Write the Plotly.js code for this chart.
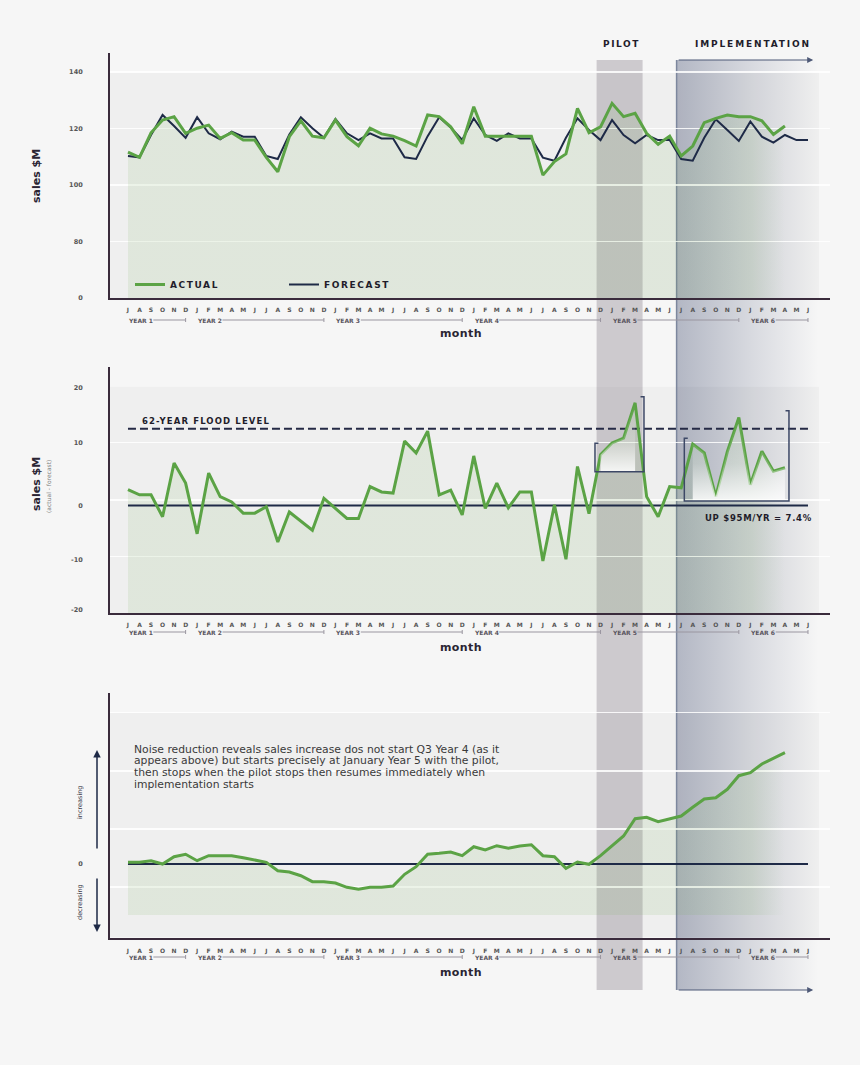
<!DOCTYPE html>
<html>
<head>
<meta charset="utf-8">
<script src="https://cdn.plot.ly/plotly-3.0.1.min.js"></script>
<style>
  html, body { margin: 0; padding: 0; background: #f6f6f6; }
  #chart { width: 860px; height: 1065px; }
</style>
</head>
<body>
<div id="chart"></div>
<script>
// month letters, Jul Year 1 .. Jun Year 6
var months = ['J','A','S','O','N','D',
  'J','F','M','A','M','J','J','A','S','O','N','D',
  'J','F','M','A','M','J','J','A','S','O','N','D',
  'J','F','M','A','M','J','J','A','S','O','N','D',
  'J','F','M','A','M','J','J','A','S','O','N','D',
  'J','F','M','A','M','J'];
var yearNames = ['YEAR 1', 'YEAR 2', 'YEAR 3', 'YEAR 4', 'YEAR 5', 'YEAR 6'];

// sales $M
var actual = [111.6,109.8,118.5,123,124.2,118.3, 120.1,121.2,116.5,118.5,115.9,115.9,
  109.8,104.7,117.1,122.7,117.3,116.7, 123,117.1,113.9,120.1,118.1,117.3,
  115.7,113.8,124.8,124.2,120.6,114.6, 127.7,117.3,117.3,117.3,117.3,117.3,
  103.5,108.3,111,127.1,118.5,120.6, 128.9,124.2,125.4,118.3,114.4,117.3,
  110.3,113.8,122.1,123.6,124.8,124.2, 124.2,122.7,117.9,120.9];
var forecast = [110.3,109.8,117.7,124.8,120.9,116.7, 124,118.3,116.2,118.9,117.1,117.1,
  110.3,109.2,117.9,124,120.1,116.7, 123.4,118.3,115.9,118.3,116.5,116.5,
  109.8,109.2,117.3,124,120.4,116, 123.6,117.7,115.6,118.3,116.5,116.5,
  109.7,108.6,116.7,123.6,119.5,115.9, 123,117.7,114.8,117.7,115.9,115.9,
  109.2,108.6,116.7,123.3,119.5,115.6, 122.5,117.1,115,117.7,115.9,115.9];

// actual - forecast, middle panel
var diff = [2.7,1.8,1.8,-1.9,7.2,3.8, -4.8,5.5,1.5,0.6,-1.3,-1.3,
  -0.2,-6.2,-1.1,-2.6,-4.2,1.2, -0.5,-2.2,-2.2,3.2,2.3,2.1,
  10.9,8.9,12.6,1.8,2.6,-1.6, 8.4,-0.5,3.8,-0.4,2.3,2.3,
  -9.4,0.1,-9.1,6.6,-1.4,8.6, 10.6,11.4,17.4,1.5,-1.9,3.2,
  3.0,10.4,8.9,1.5,9.1,14.9, 3.5,9.2,5.8,6.4];
var floodLevel = 13;

// noise-reduced trend, bottom panel (arbitrary units)
var cumulative = [0.17,0.17,0.33,0,0.73,0.97, 0.33,0.83,0.83,0.83,0.63,0.4,
  0.17,-0.67,-0.8,-1.17,-1.77,-1.77, -1.9,-2.33,-2.53,-2.33,-2.33,-2.2,
  -1.03,-0.27,0.97,1.07,1.2,0.83, 1.73,1.4,1.83,1.57,1.8,1.93,
  0.83,0.73,-0.43,0.2,-0.03,0.83, 1.83,2.8,4.53,4.67,4.23,4.5,
  4.8,5.67,6.5,6.63,7.47,8.83, 9.13,10,10.57,11.13];

var yTickVals1 = [60, 80, 100, 120, 140];
var yTickText1 = ['0', '80', '100', '120', '140'];
var yTickVals2 = [20, 10.6, 0, -9.2, -17.7];
var yTickText2 = ['20', '10', '0', '-10', '-20'];
var yTickVals3 = [0];
var yTickText3 = ['0'];

var noteLines = [
  'Noise reduction reveals sales increase dos not start Q3 Year 4 (as it',
  'appears above) but starts precisely at January Year 5 with the pilot,',
  'then stops when the pilot stops then resumes immediately when',
  'implementation starts'
];

var W = 860, H = 1065;
function px(p) { return p / W; }      // pixel x -> paper
function py(p) { return 1 - p / H; }  // pixel y -> paper

var FONT = 'DejaVu Sans';
var GREEN = '#5ba345', NAVY = '#1e2a47', AXIS = '#3a2b3c', TICK = '#555555';
var FILL = 'rgba(110,170,80,0.12)';

var xAll = months.map(function (m, i) { return i; });
var xAct = actual.map(function (v, i) { return i; });

// year spans from the month letters (a new year starts after each D)
var yearStart = [0], yearEnd = [];
months.forEach(function (m, i) {
  if (i > 0 && months[i - 1] === 'D') { yearEnd.push(i - 1); yearStart.push(i); }
});
yearEnd.push(months.length - 1);

// green area under a series, fading out at its right end
function fillPair(y, base, xa, ya) {
  return [
    { x: xAct, y: y.map(function () { return base; }), xaxis: xa, yaxis: ya, mode: 'lines',
      line: { width: 0 }, showlegend: false, hoverinfo: 'skip' },
    { x: xAct, y: y, xaxis: xa, yaxis: ya, mode: 'lines', line: { width: 0 },
      fill: 'tonexty', fillcolor: FILL, showlegend: false, hoverinfo: 'skip',
      fillgradient: { type: 'horizontal', start: 0, stop: xAct.length - 1,
        colorscale: [[0, FILL], [0.95, FILL], [1, 'rgba(110,170,80,0)']] } }
  ];
}

// white wash inside a bracket, from the line down to the bracket floor
function bracketWash(i0, i1, floor) {
  var xs = xAct.slice(i0, i1 + 1);
  var ys = diff.slice(i0, i1 + 1);
  return [
    { x: xs, y: xs.map(function () { return floor; }), xaxis: 'x2', yaxis: 'y2', mode: 'lines',
      line: { width: 0 }, showlegend: false, hoverinfo: 'skip' },
    { x: xs, y: ys, xaxis: 'x2', yaxis: 'y2', mode: 'lines', line: { width: 0 },
      fill: 'tonexty', showlegend: false, hoverinfo: 'skip',
      fillgradient: { type: 'vertical', start: floor, stop: Math.max.apply(null, ys),
        colorscale: [[0, 'rgba(255,255,255,0.85)'], [0.45, 'rgba(255,255,255,0.2)'], [1, 'rgba(255,255,255,0)']] } }
  ];
}

var data = [].concat(
  fillPair(actual, 60, 'x', 'y'),
  [
    { x: xAll, y: forecast, xaxis: 'x', yaxis: 'y', mode: 'lines', name: 'FORECAST',
      line: { color: NAVY, width: 2 } },
    { x: xAct, y: actual, xaxis: 'x', yaxis: 'y', mode: 'lines', name: 'ACTUAL',
      line: { color: GREEN, width: 3 } }
  ],
  fillPair(diff, -18.22, 'x2', 'y2'),
  [
    { x: xAll, y: xAll.map(function () { return 0; }), xaxis: 'x2', yaxis: 'y2', mode: 'lines',
      line: { color: NAVY, width: 2 }, showlegend: false },
    { x: [0, months.length - 1], y: [floodLevel, floodLevel], xaxis: 'x2', yaxis: 'y2', mode: 'lines',
      line: { color: '#252a45', width: 2, dash: '8px,4px' }, showlegend: false },
    { x: xAct, y: diff, xaxis: 'x2', yaxis: 'y2', mode: 'lines',
      line: { color: GREEN, width: 3 }, showlegend: false }
  ],
  bracketWash(41, 44, 5.73),
  bracketWash(49, 57, 0.76),
  fillPair(cumulative, -5.1, 'x3', 'y3'),
  [
    { x: xAll, y: xAll.map(function () { return 0; }), xaxis: 'x3', yaxis: 'y3', mode: 'lines',
      line: { color: NAVY, width: 2 }, showlegend: false },
    { x: xAct, y: cumulative, xaxis: 'x3', yaxis: 'y3', mode: 'lines',
      line: { color: GREEN, width: 3 }, showlegend: false }
  ]
);

function xAxis(anchor) {
  return {
    domain: [px(110), px(830)], range: [-1.56, 60.91], anchor: anchor,
    tickmode: 'array', tickvals: xAll, ticktext: months, ticks: '',
    tickfont: { family: FONT, size: 6, color: TICK, weight: 'bold' },
    ticklabelstandoff: 5, showline: true, linecolor: AXIS, linewidth: 2,
    showgrid: false, zeroline: false, fixedrange: true
  };
}
function yAxis(anchor, dom, range, tv, tt, minorVals) {
  var ax = {
    domain: dom, range: range, anchor: anchor,
    tickmode: 'array', tickvals: tv, ticktext: tt, ticks: '',
    tickfont: { family: FONT, size: 6.5, color: TICK, weight: 'bold' },
    ticklabelstandoff: 24, showline: true, linecolor: AXIS, linewidth: 2,
    showgrid: !minorVals, gridcolor: 'rgba(255,255,255,0.85)', gridwidth: 1.5,
    zeroline: false, fixedrange: true
  };
  if (minorVals) {
    ax.minor = { tickmode: 'array', tickvals: minorVals, showgrid: true, ticks: '',
      gridcolor: 'rgba(255,255,255,0.85)', gridwidth: 1.5 };
  }
  return ax;
}

// implementation band: gradient fading to the right
var gradSvg = '<svg xmlns="http://www.w3.org/2000/svg" width="100" height="100" preserveAspectRatio="none">' +
  '<defs><linearGradient id="g" x1="0" x2="1" y1="0" y2="0">' +
  '<stop offset="0" stop-color="#56607f" stop-opacity="0.42"/>' +
  '<stop offset="0.55" stop-color="#56607f" stop-opacity="0.18"/>' +
  '<stop offset="1" stop-color="#56607f" stop-opacity="0"/></linearGradient></defs>' +
  '<rect width="100" height="100" fill="url(#g)"/></svg>';

function band(top, bottom) {
  return { type: 'rect', xref: 'paper', yref: 'paper', x0: px(110), x1: px(819),
    y0: py(bottom), y1: py(top), fillcolor: 'rgba(0,0,0,0.028)', line: { width: 0 }, layer: 'below' };
}
function bracket(x0, x1, yTopL, yBot, yTopR) {
  var d = 0.3;
  return { type: 'path', xref: 'x2', yref: 'y2', layer: 'above',
    path: 'M' + (x0 + d) + ',' + yTopL + ' L' + x0 + ',' + yTopL + ' L' + x0 + ',' + yBot +
      ' L' + x1 + ',' + yBot + ' L' + x1 + ',' + yTopR + ' L' + (x1 - d) + ',' + yTopR,
    line: { color: '#3d4866', width: 1.5 } };
}

var shapes = [
  band(72, 298), band(386.7, 613), band(712.7, 937),
  { type: 'rect', xref: 'x', yref: 'paper', x0: 40.66, x1: 44.65, y0: py(990), y1: py(60),
    fillcolor: 'rgba(100,90,105,0.28)', line: { width: 0 }, layer: 'below' },
  { type: 'line', xref: 'x', yref: 'paper', x0: 47.6, x1: 47.6, y0: py(990), y1: py(60),
    line: { color: '#7d879e', width: 1.5 }, layer: 'below' },
  bracket(40.52, 44.77, 10.54, 5.73, 18.44),
  bracket(48.27, 57.35, 11.4, 0.76, 16.07)
];

var annotations = [];
function label(text, x, y, opts) {
  var a = { text: text, xref: 'paper', yref: 'paper', x: x, y: y, showarrow: false,
    xanchor: 'left', yanchor: 'middle', align: 'left',
    font: { family: FONT, size: 9, color: '#1f1d2b', weight: 'bold' } };
  for (var k in opts) a[k] = opts[k];
  annotations.push(a);
}
label('PILOT', px(601), py(44));
label('IMPLEMENTATION', px(693), py(44));
label('62-YEAR FLOOD LEVEL', px(140), py(421), { font: { family: FONT, size: 8.5, color: '#1f1d2b', weight: 'bold' } });
label('UP $95M/YR = 7.4%', px(703), py(518), { font: { family: FONT, size: 8.5, color: '#1f1d2b', weight: 'bold' } });
[333, 647, 972].forEach(function (y) {
  label('month', px(438), py(y), { font: { family: FONT, size: 11, color: '#2a2433', weight: 'bold' } });
});
label('sales $M', px(37), py(176), { xanchor: 'center', align: 'center', textangle: -90,
  font: { family: FONT, size: 11, color: '#2a2433', weight: 'bold' } });
label('sales $M', px(36), py(484), { xanchor: 'center', align: 'center', textangle: -90,
  font: { family: FONT, size: 11, color: '#2a2433', weight: 'bold' } });
label('(actual - forecast)', px(48), py(487), { xanchor: 'center', align: 'center', textangle: -90,
  font: { family: FONT, size: 6, color: '#808080' } });
label('increasing', px(80), py(803), { xanchor: 'center', align: 'center', textangle: -90,
  font: { family: FONT, size: 6.5, color: '#3a3a4a' } });
label('decreasing', px(80), py(902), { xanchor: 'center', align: 'center', textangle: -90,
  font: { family: FONT, size: 6.5, color: '#3a3a4a' } });
noteLines.forEach(function (line, k) {
  label(line, px(132), py(749 + k * 11.7), { font: { family: FONT, size: 10.8, color: '#3a3a3a' } });
});

// year rows under each month axis
[['x', 320], ['x2', 632], ['x3', 957]].forEach(function (row) {
  yearNames.forEach(function (name, k) {
    annotations.push({ text: name, xref: row[0], yref: 'paper', x: yearStart[k], y: py(row[1]),
      xanchor: 'left', yanchor: 'middle', xshift: -2, showarrow: false,
      font: { family: FONT, size: 6, color: '#5a5560', weight: 'bold' } });
    shapes.push({ type: 'line', xref: row[0], yref: 'paper', x0: yearStart[k] + 2.2, x1: yearEnd[k],
      y0: py(row[1]), y1: py(row[1]), line: { color: '#9a96a0', width: 1 } });
    shapes.push({ type: 'line', xref: row[0], yref: 'paper', x0: yearEnd[k], x1: yearEnd[k],
      y0: py(row[1] - 2), y1: py(row[1] + 2), line: { color: '#9a96a0', width: 1 } });
  });
});

// arrows
function arrow(xref, x, y, ax, ay, color, w) {
  annotations.push({ text: '', xref: xref, yref: 'paper', x: x, y: y, ax: ax, ay: ay,
    axref: 'pixel', ayref: 'pixel', showarrow: true, arrowhead: 2, arrowsize: 1,
    arrowwidth: w, arrowcolor: color });
}
arrow('x', 59.45, py(60), -136, 0, '#4d5876', 1.2);
arrow('x', 59.45, py(990), -136, 0, '#4d5876', 1.2);
arrow('paper', px(97), py(750), 0, 100, NAVY, 1.5);
arrow('paper', px(97), py(932), 0, -55, NAVY, 1.5);

var layout = {
  width: W, height: H,
  margin: { l: 0, r: 0, t: 0, b: 0 },
  paper_bgcolor: '#f6f6f6',
  plot_bgcolor: 'rgba(0,0,0,0)',
  font: { family: FONT },
  hovermode: false,
  showlegend: true,
  legend: {
    orientation: 'h', traceorder: 'reversed',
    x: px(130), y: py(270), xanchor: 'left', yanchor: 'top',
    bgcolor: 'rgba(0,0,0,0)', entrywidth: 109, entrywidthmode: 'pixels', itemwidth: 30,
    font: { family: FONT, size: 9, color: '#1f1d2b', weight: 'bold' }
  },
  xaxis: xAxis('y'), xaxis2: xAxis('y2'), xaxis3: xAxis('y3'),
  yaxis: yAxis('x', [py(298), py(53)], [60, 146.73], yTickVals1, yTickText1),
  yaxis2: yAxis('x2', [py(613), py(367)], [-18.22, 23.47], yTickVals2, yTickText2, [10.64, 0.93, -8.68]),
  yaxis3: yAxis('x3', [py(938.3), py(692.7)], [-7.43, 17.13], yTickVals3, yTickText3, [15.13, 9.3, 3.5, -2.3]),
  shapes: shapes,
  annotations: annotations,
  images: [{
    source: 'data:image/svg+xml;charset=utf-8,' + encodeURIComponent(gradSvg),
    xref: 'x', yref: 'paper', x: 47.6, y: py(60), sizex: 12.3, sizey: (990 - 60) / H,
    xanchor: 'left', yanchor: 'top', sizing: 'stretch', layer: 'below'
  }]
};

var config = { displayModeBar: false, staticPlot: true };

// widths the spaced capitals take up in the reference
var spacedWidths = {
  'PILOT': 37, 'IMPLEMENTATION': 116, 'ACTUAL': 49, 'FORECAST': 66,
  '62-YEAR FLOOD LEVEL': 128, 'UP $95M/YR = 7.4%': 107, 'month': 42
};

Plotly.newPlot('chart', data, layout, config).then(function (gd) {
  gd.querySelectorAll('text').forEach(function (t) {
    var s = t.textContent;
    if (spacedWidths[s]) {
      var extra = (spacedWidths[s] - t.getComputedTextLength()) / s.length;
      if (extra > 0) t.style.letterSpacing = extra.toFixed(2) + 'px';
    }
  });
});
</script>
</body>
</html>
